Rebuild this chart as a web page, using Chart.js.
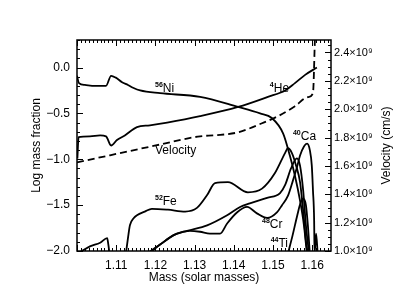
<!DOCTYPE html>
<html>
<head>
<meta charset="utf-8">
<script src="https://cdn.jsdelivr.net/npm/chart.js@4.4.0/dist/chart.umd.min.js"></script>
<style>
  html, body { margin: 0; padding: 0; background: #fff; }
</style>
</head>
<body>
<canvas id="grafico" width="395" height="305"></canvas>
<script>
const fonte = 'Liberation Sans, Arial, Helvetica, sans-serif';

// massa (massas solares) e log da fracao de massa
const niMass = [1.1000, 1.1005, 1.1020, 1.1046, 1.1074, 1.1087, 1.1099, 1.1115, 1.1130, 1.1143, 1.1161, 1.1212, 1.1314, 1.1411, 1.1467, 1.1497, 1.1526, 1.1543, 1.1556, 1.1569, 1.1579, 1.1587];
const niLog = [-0.09, -0.17, -0.19, -0.20, -0.20, -0.09, -0.11, -0.16, -0.19, -0.22, -0.25, -0.28, -0.32, -0.43, -0.50, -0.55, -0.72, -0.96, -1.18, -1.45, -1.72, -2.05];

const heMass = [1.1001, 1.1004, 1.1033, 1.1059, 1.1074, 1.1087, 1.1102, 1.1122, 1.1153, 1.1186, 1.1230, 1.1314, 1.1411, 1.1487, 1.1531, 1.1556, 1.1582, 1.1612];
const heLog = [-0.99, -0.76, -0.75, -0.74, -0.75, -0.85, -0.79, -0.74, -0.65, -0.63, -0.60, -0.53, -0.43, -0.32, -0.25, -0.17, -0.08, 0.00];

const feMass = [1.1125, 1.1130, 1.1135, 1.1145, 1.1153, 1.1173, 1.1191, 1.1232, 1.1276, 1.1306, 1.1332, 1.1352, 1.1385, 1.1436, 1.1472, 1.1505, 1.1531, 1.1538, 1.1548, 1.1559, 1.1569, 1.1577, 1.1584, 1.1589];
const feLog = [-2.02, -1.86, -1.72, -1.64, -1.61, -1.57, -1.54, -1.55, -1.57, -1.53, -1.39, -1.26, -1.25, -1.36, -1.32, -1.15, -0.93, -0.88, -0.93, -1.07, -1.25, -1.56, -1.89, -2.03];

const crMass = [1.1181, 1.1212, 1.1245, 1.1281, 1.1332, 1.1383, 1.1416, 1.1441, 1.1485, 1.1518, 1.1531, 1.1546, 1.1561, 1.1569, 1.1577, 1.1584, 1.1592];
const crLog = [-2.02, -1.93, -1.83, -1.78, -1.72, -1.61, -1.52, -1.48, -1.42, -1.37, -1.28, -1.10, -0.99, -1.07, -1.34, -1.72, -2.03];

const caMass = [1.1186, 1.1212, 1.1255, 1.1288, 1.1314, 1.1339, 1.1365, 1.1383, 1.1408, 1.1434, 1.1459, 1.1485, 1.1510, 1.1523, 1.1538, 1.1551, 1.1561, 1.1569, 1.1579, 1.1587, 1.1594, 1.1599, 1.1602, 1.1605, 1.1606, 1.1610, 1.1614];
const caLog = [-2.02, -1.93, -1.81, -1.78, -1.79, -1.81, -1.81, -1.70, -1.58, -1.52, -1.59, -1.64, -1.58, -1.50, -1.40, -1.23, -1.09, -0.96, -0.86, -0.83, -0.90, -1.07, -1.34, -1.67, -2.03, -1.81, -2.03];

const tiMass = [1.1005, 1.1033, 1.1059, 1.1077, 1.1080, 1.1083, 1.1300, 1.1538, 1.1550, 1.1562, 1.1570, 1.1577, 1.1584, 1.1589, 1.1594];
const tiLog = [-2.02, -1.95, -1.91, -1.86, -1.93, -2.03, null, -2.03, -1.83, -1.61, -1.48, -1.43, -1.50, -1.72, -2.03];

// velocidade (cm/s), eixo da direita
const velMass = [1.1000, 1.1084, 1.1204, 1.1314, 1.1352, 1.1411, 1.1472, 1.1513, 1.1556, 1.1589, 1.1602, 1.1607];
const velCms = [1.625e9, 1.675e9, 1.746e9, 1.809e9, 1.816e9, 1.837e9, 1.901e9, 1.951e9, 2.021e9, 2.085e9, 2.113e9, 2.50e9];

const massTicks = [1.11, 1.12, 1.13, 1.14, 1.15, 1.16];
const logTicks = [-2.0, -1.5, -1.0, -0.5, 0.0];
const velTicks = [1.0e9, 1.2e9, 1.4e9, 1.6e9, 1.8e9, 2.0e9, 2.2e9, 2.4e9];

// rotulos dentro do grafico (massa, log)
const rotulos = [
    { sup: '56', nome: 'Ni', x: 1.1199, y: -0.268 },
    { sup: '4', nome: 'He', x: 1.1492, y: -0.268 },
    { sup: '', nome: 'Velocity', x: 1.1199, y: -0.945 },
    { sup: '52', nome: 'Fe', x: 1.1199, y: -1.503 },
    { sup: '40', nome: 'Ca', x: 1.1551, y: -0.792 },
    { sup: '48', nome: 'Cr', x: 1.1472, y: -1.754 },
    { sup: '44', nome: 'Ti', x: 1.1494, y: -1.951 },
];

function pares(xs, ys) {
    return xs.map((x, i) => ({ x: x, y: ys[i] }));
}

function serie(xs, ys, extra) {
    return Object.assign({
        data: pares(xs, ys),
        borderColor: '#000',
        borderWidth: 1.8,
        pointRadius: 0,
        cubicInterpolationMode: 'monotone',
        spanGaps: false,
        yAxisID: 'y',
    }, extra || {});
}

const molduraPlugin = {
    id: 'moldura',
    afterDatasetsDraw(chart) {
        const { ctx, chartArea: a, scales } = chart;
        ctx.save();
        ctx.strokeStyle = '#000';
        ctx.lineWidth = 1.5;
        ctx.strokeRect(a.left, a.top, a.right - a.left, a.bottom - a.top);

        ctx.lineWidth = 1;
        ctx.beginPath();
        for (let k = 1100; k <= 1164; k++) {
            const px = Math.round(scales.x.getPixelForValue(k / 1000)) + 0.5;
            const len = k % 10 === 0 ? 6 : 3;
            ctx.moveTo(px, a.bottom); ctx.lineTo(px, a.bottom - len);
            ctx.moveTo(px, a.top); ctx.lineTo(px, a.top + len);
        }
        for (let k = -20; k <= 3; k++) {
            const py = Math.round(scales.y.getPixelForValue(k / 10)) + 0.5;
            const len = k % 5 === 0 ? 6 : 3;
            ctx.moveTo(a.left, py); ctx.lineTo(a.left + len, py);
        }
        for (let k = 20; k <= 49; k++) {
            const py = Math.round(scales.y2.getPixelForValue(k * 0.05e9)) + 0.5;
            const len = k % 4 === 0 ? 6 : 3;
            ctx.moveTo(a.right, py); ctx.lineTo(a.right - len, py);
        }
        ctx.stroke();

        // rotulos das especies
        ctx.fillStyle = '#000';
        ctx.textBaseline = 'alphabetic';
        ctx.textAlign = 'left';
        rotulos.forEach(r => {
            let px = scales.x.getPixelForValue(r.x);
            const py = scales.y.getPixelForValue(r.y);
            if (r.sup) {
                ctx.font = 'bold 7px ' + fonte;
                ctx.fillText(r.sup, px, py - 5);
                px += ctx.measureText(r.sup).width;
            }
            ctx.font = '12px ' + fonte;
            ctx.fillText(r.nome, px, py);
        });

        // titulo do eixo da direita, lido de baixo para cima
        ctx.font = '12px ' + fonte;
        ctx.textAlign = 'center';
        ctx.textBaseline = 'middle';
        ctx.translate(387, (a.top + a.bottom) / 2);
        ctx.rotate(-Math.PI / 2);
        ctx.fillText('Velocity (cm/s)', 0, 0);
        ctx.restore();
    }
};

const ctx = document.getElementById('grafico').getContext('2d');
const grafico = new Chart(ctx, {
    type: 'line',
    data: {
        datasets: [
            serie(niMass, niLog),
            serie(heMass, heLog),
            serie(feMass, feLog),
            serie(crMass, crLog),
            serie(caMass, caLog),
            serie(tiMass, tiLog),
            serie(velMass, velCms, { yAxisID: 'y2', borderDash: [7, 4] }),
        ]
    },
    options: {
        responsive: false,
        animation: false,
        layout: { padding: { top: 40, left: 0, right: 0, bottom: 0 } },
        plugins: {
            legend: { display: false },
            tooltip: { enabled: false },
        },
        scales: {
            x: {
                type: 'linear',
                min: 1.1,
                max: 1.1648,
                grid: { display: false, drawTicks: false },
                border: { display: false },
                afterBuildTicks: s => { s.ticks = massTicks.map(v => ({ value: v })); },
                afterFit: s => { s.height = 54; },
                ticks: {
                    color: '#000',
                    font: { family: fonte, size: 12 },
                    padding: 7,
                    maxRotation: 0,
                    autoSkip: false,
                    callback: v => v.toFixed(2),
                },
                title: {
                    display: true,
                    text: 'Mass (solar masses)',
                    color: '#000',
                    font: { family: fonte, size: 12 },
                    padding: { top: 0, bottom: 20 },
                },
            },
            y: {
                position: 'left',
                min: -2.0,
                max: 0.30,
                grid: { display: false, drawTicks: false },
                border: { display: false },
                afterBuildTicks: s => { s.ticks = logTicks.map(v => ({ value: v })); },
                afterFit: s => { s.width = 77; },
                ticks: {
                    color: '#000',
                    font: { family: fonte, size: 12 },
                    padding: 7,
                    callback: v => v.toFixed(1).replace('-', '\u2212'),
                },
                title: {
                    display: true,
                    text: 'Log mass fraction',
                    color: '#000',
                    font: { family: fonte, size: 12 },
                    padding: { top: 29, bottom: 0 },
                },
            },
            y2: {
                position: 'right',
                min: 1.0e9,
                max: 2.488e9,
                grid: { display: false, drawTicks: false },
                border: { display: false },
                afterBuildTicks: s => { s.ticks = velTicks.map(v => ({ value: v })); },
                afterFit: s => { s.width = 64; },
                ticks: {
                    color: '#000',
                    font: { family: fonte, size: 11 },
                    padding: 3,
                    callback: v => (v / 1e9).toFixed(1) + '\u00d710\u2079',
                },
            },
        }
    },
    plugins: [molduraPlugin]
});
</script>
</body>
</html>
